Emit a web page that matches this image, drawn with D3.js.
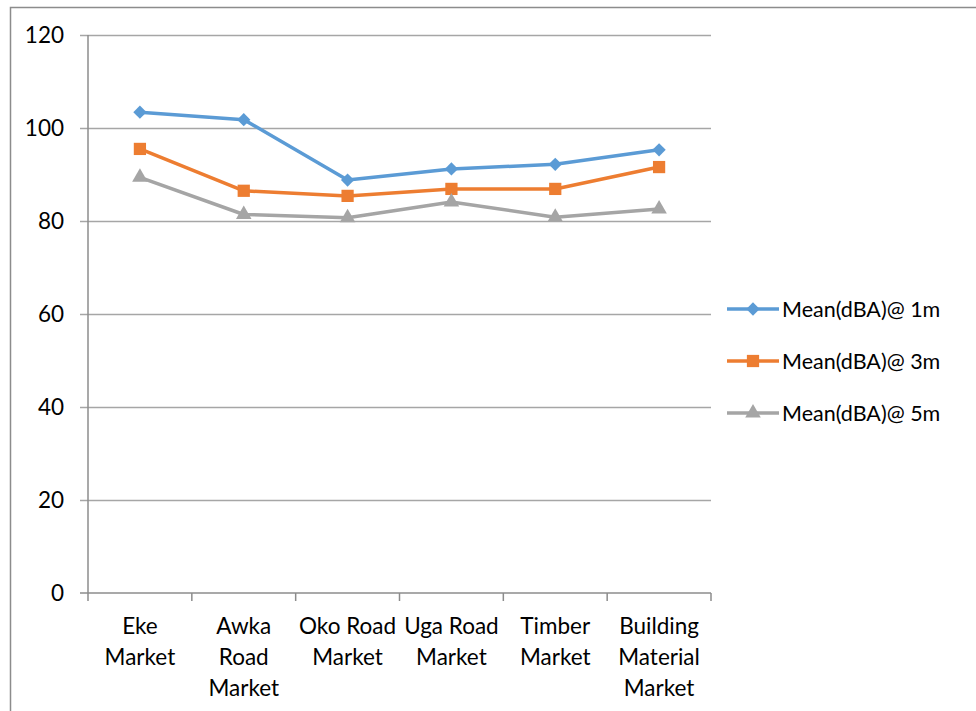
<!DOCTYPE html>
<html>
<head>
<meta charset="utf-8">
<script src="https://cdn.jsdelivr.net/npm/d3@7/dist/d3.min.js"></script>
<style>
  html, body { margin: 0; padding: 0; background: #fff; }
  svg { display: block; font-family: Lato, "Open Sans", sans-serif; }
</style>
</head>
<body>
<svg id="chart" width="976" height="711"></svg>
<script>
// Market noise levels (mean dBA) at three distances
const categories = [
  ["Eke", "Market"],
  ["Awka", "Road", "Market"],
  ["Oko Road", "Market"],
  ["Uga Road", "Market"],
  ["Timber", "Market"],
  ["Building", "Material", "Market"]
];
const seriesNames = ["Mean(dBA)@ 1m", "Mean(dBA)@ 3m", "Mean(dBA)@ 5m"];
const mean1m = [103.4, 101.8, 88.8, 91.2, 92.2, 95.3];
const mean3m = [95.5, 86.5, 85.4, 86.9, 86.9, 91.6];
const mean5m = [89.4, 81.4, 80.7, 84.1, 80.8, 82.6];
const yTicks = [0, 20, 40, 60, 80, 100, 120];

const colors = ["#5B9BD5", "#ED7D31", "#A5A5A5"];
// diamond = square turned 45 degrees
const markers = [d3.symbolSquare, d3.symbolSquare, d3.symbolTriangle];
const markerRotate = [45, 0, 0];
const markerSizes = [88, 150, 105];
const series = [mean1m, mean3m, mean5m];

const svg = d3.select("#chart");

// outer chart frame
svg.append("path")
  .attr("d", "M10.5,711 L10.5,7.5 L976,7.5")
  .attr("fill", "none").attr("stroke", "#8c8c8c").attr("stroke-width", 1.5);

const plot = { left: 88, right: 711, top: 35, bottom: 593 };

const x = d3.scaleBand()
  .domain(d3.range(categories.length))
  .range([plot.left, plot.right])
  .paddingInner(0).paddingOuter(0);

const y = d3.scaleLinear().domain([0, 120]).range([plot.bottom, plot.top]);

// horizontal gridlines with short left ticks
const grid = svg.append("g")
  .attr("transform", `translate(${plot.right},0)`)
  .call(d3.axisLeft(y).tickValues(yTicks.filter(v => v > 0))
    .tickSize(plot.right - plot.left + 8).tickFormat(""));
grid.select(".domain").remove();
grid.selectAll(".tick line").attr("stroke", "#a6a6a6").attr("stroke-width", 1.3);

// y axis line
svg.append("line")
  .attr("x1", plot.left).attr("x2", plot.left)
  .attr("y1", y(120)).attr("y2", y(0))
  .attr("stroke", "#8c8c8c").attr("stroke-width", 1.5);

// y tick labels
svg.append("g").selectAll("text")
  .data(yTicks)
  .join("text")
  .attr("x", 64)
  .attr("y", d => y(d))
  .attr("dy", "0.36em")
  .attr("text-anchor", "end")
  .attr("font-size", 22.5)
  .attr("fill", "#000")
  .text(d => d);

// x axis with category boundary ticks
const xAxis = svg.append("g")
  .attr("transform", `translate(0,${plot.bottom})`);
xAxis.append("line")
  .attr("x1", plot.left - 8).attr("x2", plot.right)
  .attr("stroke", "#8c8c8c").attr("stroke-width", 1.5);
xAxis.selectAll("line.tk")
  .data(d3.range(categories.length + 1))
  .join("line")
  .attr("class", "tk")
  .attr("x1", i => i < categories.length ? x(i) : plot.right)
  .attr("x2", i => i < categories.length ? x(i) : plot.right)
  .attr("y1", 0).attr("y2", 8)
  .attr("stroke", "#8c8c8c").attr("stroke-width", 1.5);

const catLabels = svg.append("g").selectAll("text")
  .data(categories)
  .join("text")
  .attr("x", (d, i) => x(i) + x.bandwidth() / 2)
  .attr("y", 634)
  .attr("text-anchor", "middle")
  .attr("font-size", 22.5)
  .attr("fill", "#000");
catLabels.selectAll("tspan")
  .data((d, i) => d.map(t => ({ t, i })))
  .join("tspan")
  .attr("x", d => x(d.i) + x.bandwidth() / 2)
  .attr("dy", (d, j) => j === 0 ? 0 : 31)
  .text(d => d.t);

// series lines and markers
const line = d3.line()
  .x((d, i) => x(i) + x.bandwidth() / 2)
  .y(d => y(d));

series.forEach((vals, s) => {
  svg.append("path")
    .datum(vals)
    .attr("fill", "none")
    .attr("stroke", colors[s])
    .attr("stroke-width", 3.5)
    .attr("stroke-linejoin", "round")
    .attr("d", line);
  svg.append("g").selectAll("path")
    .data(vals)
    .join("path")
    .attr("transform", (d, i) => `translate(${x(i) + x.bandwidth() / 2},${y(d)}) rotate(${markerRotate[s]})`)
    .attr("d", d3.symbol().type(markers[s]).size(markerSizes[s]))
    .attr("fill", colors[s]);
});

// legend
const legend = svg.append("g");
const legendY = [309, 361, 413];
seriesNames.forEach((name, s) => {
  const g = legend.append("g").attr("transform", `translate(727,${legendY[s]})`);
  g.append("line").attr("x1", 0).attr("x2", 52)
    .attr("stroke", colors[s]).attr("stroke-width", 3.5);
  g.append("path")
    .attr("transform", `translate(26,0) rotate(${markerRotate[s]})`)
    .attr("d", d3.symbol().type(markers[s]).size(markerSizes[s]))
    .attr("fill", colors[s]);
  g.append("text")
    .attr("x", 55).attr("dy", "0.35em")
    .attr("font-size", 21.5)
    .attr("fill", "#000")
    .text(name);
});
</script>
</body>
</html>
